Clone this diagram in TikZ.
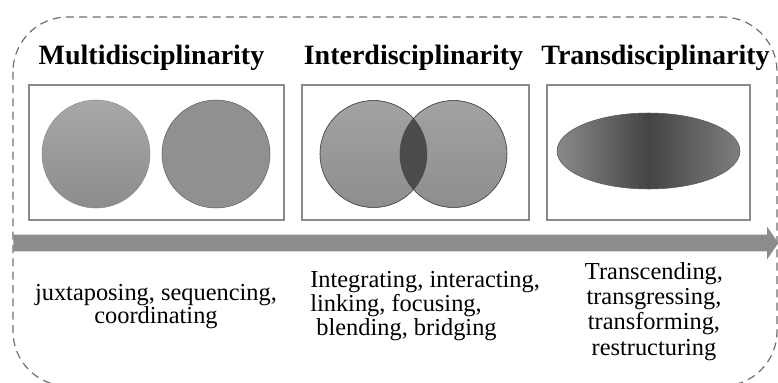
\documentclass[tikz,border=0pt]{standalone}
\usepackage{fontspec}
\setmainfont{Liberation Serif}
\usetikzlibrary{shapes.geometric,shapes.arrows}
\definecolor{boxgray}{HTML}{8A8A8A}
\definecolor{bordergray}{HTML}{6E6E6E}
\definecolor{arrowgray}{HTML}{8C8C8C}
\definecolor{lensgray}{HTML}{4B4B4B}
\definecolor{multitop}{HTML}{A8A8A8}
\definecolor{multibot}{HTML}{8C8C8C}
\definecolor{multiflat}{HTML}{909090}
\definecolor{intertop}{HTML}{A2A2A2}
\definecolor{interbot}{HTML}{8E8E8E}
\definecolor{transedge}{HTML}{8A8A8A}
\definecolor{transmid}{HTML}{444444}
\definecolor{transright}{HTML}{7E7E7E}
\begin{document}
\begin{tikzpicture}[x=0.75pt, y=-0.75pt, every node/.style={inner sep=0pt},
  title/.style={anchor=base, font=\fontsize{21}{25}\selectfont\bfseries},
  verbs/.style={anchor=base, font=\fontsize{18.3}{#1}\selectfont},
  panel/.style={draw=boxgray, line width=1.1pt, minimum width=#1, minimum height=101.25pt},
  disc/.style={circle, minimum size=#1, draw=gray!80!black, line width=0.4pt}]
  \useasboundingbox (0,0) rectangle (778,382);
  \draw[bordergray, line width=0.9pt, dash pattern=on 6pt off 4pt, rounded corners=41pt]
    (13,17) rectangle (777,386);

  \node[title] (multi) at (151.5,64) {Multidisciplinarity};
  \node[title] (inter) at (413.5,64) {Interdisciplinarity};
  \node[title] (trans) at (655.5,64) {Transdisciplinarity};

  \node[panel=191.25pt] (p1) at (156.5,152.5) {};
  \node[panel=170.25pt] (p2) at (415.5,152.5) {};
  \node[panel=152.25pt] (p3) at (648.5,152.5) {};

  \node[disc=81pt, top color=multitop, bottom color=multibot, draw=multibot] (m1) at (96,154) {};
  \node[disc=81pt, fill=multiflat, draw=gray!75!black] (m2) at (216,154) {};
  \node[disc=80.25pt, top color=intertop, bottom color=interbot] (i1) at (373.5,154) {};
  \node[disc=80.25pt, top color=intertop, bottom color=interbot] (i2) at (453.5,154) {};
  \begin{scope}
    \clip (i1) circle[radius=53.5];
    \fill[lensgray] (i2) circle[radius=53.5];
  \end{scope}
  \draw[gray!60!black, line width=0.4pt] (i1) circle[radius=53.5] (i2) circle[radius=53.5];
  \node[ellipse, minimum width=137.25pt, minimum height=57pt, draw=gray!70!black, line width=0.4pt,
    left color=transedge, right color=transright, middle color=transmid] (t1) at (648.5,151) {};

  \node[single arrow, fill=arrowgray, anchor=west, minimum height=573.75pt, inner ysep=6pt,
    single arrow head extend=6pt, single arrow tip angle=111, single arrow head indent=0pt] (axis) at (13,243) {};

  \node[verbs=17pt, align=center] (v1) at (156,323) {juxtaposing, sequencing,\\coordinating};
  \node[verbs=18pt, align=left, anchor=base west] (v2) at (310,335) {Integrating, interacting,\\linking, focusing,\\\ blending, bridging};
  \node[verbs=19pt, align=center] (v3) at (654,355) {Transcending,\\transgressing,\\transforming,\\restructuring};
\end{tikzpicture}
\end{document}
